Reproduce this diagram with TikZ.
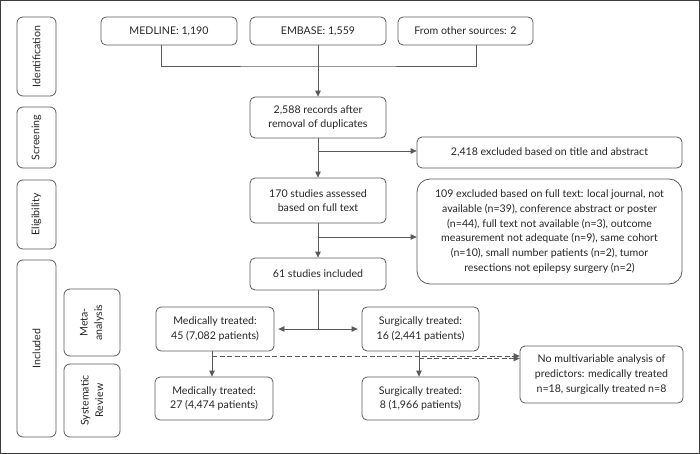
\documentclass[tikz,border=0pt]{standalone}
\usepackage{fontspec}
\setmainfont{Lato}
\usetikzlibrary{arrows.meta,calc}
\definecolor{linecol}{HTML}{5A5A5A}
\definecolor{txtcol}{HTML}{262626}
\definecolor{framecol}{HTML}{3C3C3C}
\newcommand{\fs}{\fontsize{10.6}{14.7}\selectfont}
\begin{document}
\begin{tikzpicture}[x=1pt,y=-1pt,
  box/.style={draw=linecol, line width=0.8pt, rounded corners=5pt, align=center, inner sep=0pt, font=\fs, text=txtcol},
  stage/.style={box, rounded corners=6pt, rotate=90},
  arr/.style={-{Triangle[length=6pt,width=5.5pt]}, draw=linecol, line width=0.8pt},
  ln/.style={draw=linecol, line width=0.8pt},
  dsh/.style={draw=linecol, line width=0.8pt, dash pattern=on 5pt off 2.5pt, -{Triangle[length=6pt,width=5.5pt]}}]
\useasboundingbox (0,0) rectangle (700,454);
\draw[framecol, line width=1.4pt] (0.7,0.7) rectangle (699.3,453.3);
% stage labels
\node[stage, minimum width=79, minimum height=39] (ident) at (36.5,56.5) {Identification};
\node[stage, minimum width=61, minimum height=39] (screen) at (36.5,137.5) {Screening};
\node[stage, minimum width=69, minimum height=39] (elig) at (36.5,214.5) {Eligibility};
\node[stage, minimum width=177, minimum height=39] (incl) at (36.5,348.5) {Included};
\node[stage, minimum width=67, minimum height=56] (meta) at (92,322.5) {Meta-\\analysis};
\node[stage, minimum width=73, minimum height=56] (sysrev) at (92,400.5) {Systematic\\Review};
% main boxes
\node[box, minimum width=136, minimum height=28] (medline) at (169,31) {MEDLINE: 1,190};
\node[box, minimum width=136, minimum height=28] (embase) at (318,31) {EMBASE: 1,559};
\node[box, minimum width=135, minimum height=28] (other) at (465.5,31) {From other sources: 2};
\node[box, minimum width=136, minimum height=41] (records) at (318,117.5) {2,588 records after\\removal of duplicates};
\node[box, minimum width=265, minimum height=31] (excl1) at (549.5,152.5) {2,418 excluded based on title and abstract};
\node[box, minimum width=136, minimum height=45] (assessed) at (318,200.5) {170 studies assessed\\based on full text};
\node[box, rounded corners=13pt, minimum width=265, minimum height=105] (excl2) at (549.5,231.5) {109 excluded based on full text: local journal, not\\available (n=39), conference abstract or poster\\(n=44), full text not available (n=3), outcome\\measurement not adequate (n=9), same cohort\\(n=10), small number patients (n=2), tumor\\resections not epilepsy surgery (n=2)};
\node[box, minimum width=136, minimum height=32] (inc61) at (318,274) {61 studies included};
\node[box, minimum width=118, minimum height=44] (med45) at (215,329) {Medically treated:\\45 (7,082 patients)};
\node[box, minimum width=117, minimum height=44] (surg16) at (420.5,329) {Surgically treated:\\16 (2,441 patients)};
\node[box, minimum width=118, minimum height=43] (med27) at (214,398.5) {Medically treated:\\27 (4,474 patients)};
\node[box, minimum width=117, minimum height=43] (surg8) at (420.5,398.5) {Surgically treated:\\8 (1,966 patients)};
\node[box, minimum width=163, minimum height=57] (nomulti) at (601.5,374.5) {No multivariable analysis of\\predictors: medically treated\\n=18, surgically treated n=8};
% connectors
\coordinate (j1) at (318,66);
\draw[ln] ([xshift=-8pt]medline.south) |- (j1) -| ([xshift=10.5pt]other.south);
\draw[arr] (embase.south) -- (records.north);
\draw[arr] (records.south) -- (assessed.north);
\coordinate (b1) at (318,151);
\draw[arr] (b1) -- (b1 -| excl1.west);
\draw[arr] (assessed.south) -- (inc61.north);
\coordinate (b2) at (318,237);
\draw[arr] (b2) -- (b2 -| excl2.west);
\coordinate (b3) at (318,329);
\draw[ln] (inc61.south) -- (b3);
\draw[arr, shorten >=4pt] (b3) -- (med45.east);
\draw[arr, shorten >=4pt] (b3) -- (surg16.west);
\draw[arr] ([xshift=-3pt]med45.south) -- ([xshift=-2pt]med27.north);
\draw[arr] ([xshift=-1.5pt]surg16.south) -- ([xshift=-1.5pt]surg8.north);
\coordinate (d1) at (212,356);
\coordinate (d2) at (419,358.5);
\draw[dsh] (d1) -- (d1 -| nomulti.west);
\draw[dsh] (d2) -- (d2 -| nomulti.west);
\end{tikzpicture}
\end{document}
